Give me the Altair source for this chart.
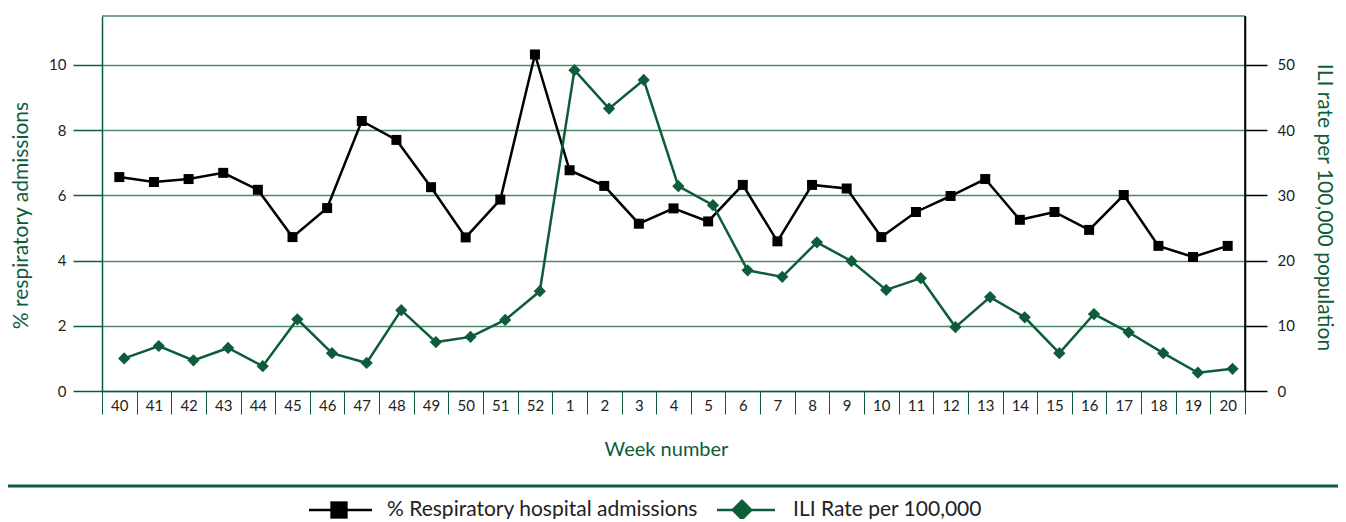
import altair as alt
import pandas as pd

weeks = ["40", "41", "42", "43", "44", "45", "46", "47", "48", "49", "50", "51", "52",
         "1", "2", "3", "4", "5", "6", "7", "8", "9", "10", "11", "12", "13", "14",
         "15", "16", "17", "18", "19", "20"]
resp_pct = [6.56, 6.41, 6.50, 6.69, 6.17, 4.72, 5.61, 8.28, 7.70, 6.25, 4.71, 5.87, 10.32,
            6.77, 6.29, 5.13, 5.60, 5.20, 6.32, 4.59, 6.32, 6.21, 4.72, 5.49, 5.98, 6.50,
            5.25, 5.49, 4.94, 6.01, 4.45, 4.11, 4.45]
ili_rate = [5.0, 6.9, 4.7, 6.6, 3.8, 11.0, 5.8, 4.3, 12.4, 7.5, 8.3, 10.9, 15.3,
            49.2, 43.3, 47.7, 31.4, 28.5, 18.5, 17.5, 22.8, 19.9, 15.5, 17.3, 9.8, 14.4,
            11.3, 5.8, 11.8, 9.0, 5.8, 2.8, 3.4]
legend_labels = ["% Respiratory hospital admissions", "ILI Rate per 100,000"]

GREEN = "#0d5c3a"
GRID = "#4b8a69"
FONT = "Lato"
TXT = "#222222"

df = pd.DataFrame({"week": weeks, "resp": resp_pct, "ili": ili_rate})
one = pd.DataFrame({"k": [0]})

xscale = alt.Scale(type="band", paddingInner=0, paddingOuter=0)
xaxis = alt.Axis(title="Week number", tickBand="extent", tickSize=23, tickColor=GREEN,
                 tickWidth=1, domainColor=GREEN, domainWidth=1.5, labelPadding=-16,
                 labelAngle=0, labelFontSize=15, labelColor=TXT, labelFont=FONT,
                 titleColor=GREEN, titleFontSize=20, titleFont=FONT,
                 titleFontWeight="normal", titlePadding=25, titleX=564)

x_black = alt.X("week:N", sort=weeks, scale=xscale, axis=xaxis)
x_green = alt.X("week:N", sort=weeks, scale=xscale, axis=xaxis, bandPosition=0.64)

y_left = alt.Y("resp:Q", scale=alt.Scale(domain=[0, 11.5], nice=False),
               axis=alt.Axis(values=[0, 2, 4, 6, 8, 10], grid=True, gridColor=GRID,
                             gridWidth=1.5, domainColor=GREEN, domainWidth=1.5,
                             tickColor=GREEN, tickWidth=1.5, tickSize=29, labelPadding=7,
                             labelFontSize=15, labelColor=TXT, labelFont=FONT,
                             title="% respiratory admissions", titleColor=GREEN,
                             titleFontSize=21, titleFont=FONT, titleFontWeight="normal",
                             titlePadding=17, titleY=199))
y_right = alt.Y("ili:Q", scale=alt.Scale(domain=[0, 57.5], nice=False),
                axis=alt.Axis(orient="right", values=[0, 10, 20, 30, 40, 50], grid=False,
                              domainColor="black", domainWidth=1.5, tickColor="black",
                              tickWidth=1.5, tickSize=22, labelPadding=10,
                              labelFontSize=15, labelColor=TXT, labelFont=FONT,
                              title="ILI rate per 100,000 population", titleColor=GREEN,
                              titleFontSize=21, titleFont=FONT, titleFontWeight="normal",
                              titlePadding=19, titleY=191, zindex=2))

black_line = alt.Chart(df).mark_line(color="black", strokeWidth=2.5).encode(x=x_black, y=y_left)
black_pts = alt.Chart(df).mark_point(shape="square", filled=True, size=100, color="black",
                                     opacity=1).encode(x=x_black, y=y_left)
left = alt.layer(black_line, black_pts)

green_line = alt.Chart(df).mark_line(color=GREEN, strokeWidth=2.5).encode(x=x_green, y=y_right)
green_pts = alt.Chart(df).mark_point(shape="diamond", filled=True, size=150, color=GREEN,
                                     opacity=1).encode(x=x_green, y=y_right)
right = alt.layer(green_line, green_pts)

# frame, separator and legend (decorations)
top_border = alt.Chart(one).mark_rule(color=GRID, strokeWidth=1.5).encode(
    x=alt.value(0), x2=alt.value(1143), y=alt.value(0))
right_border = alt.Chart(one).mark_rule(color="black", strokeWidth=1.5).encode(
    x=alt.value(1143), y=alt.value(0), y2=alt.value(375))
sep = alt.Chart(one).mark_rule(color=GREEN, strokeWidth=3).encode(
    x=alt.value(-94), x2=alt.value(1236), y=alt.value(470))
leg1_line = alt.Chart(one).mark_rule(color="black", strokeWidth=2.5).encode(
    x=alt.value(207), x2=alt.value(270), y=alt.value(494))
leg1_sym = alt.Chart(one).mark_point(shape="square", filled=True, size=300, color="black",
                                     opacity=1).encode(x=alt.value(237), y=alt.value(494))
leg1_txt = alt.Chart(one).mark_text(align="left", baseline="middle", fontSize=21, font=FONT,
                                    color=TXT).encode(x=alt.value(285), y=alt.value(494),
                                                      text=alt.value(legend_labels[0]))
leg2_line = alt.Chart(one).mark_rule(color=GREEN, strokeWidth=2.5).encode(
    x=alt.value(615), x2=alt.value(673), y=alt.value(494))
leg2_sym = alt.Chart(one).mark_point(shape="diamond", filled=True, size=480, color=GREEN,
                                     opacity=1).encode(x=alt.value(640), y=alt.value(494))
leg2_txt = alt.Chart(one).mark_text(align="left", baseline="middle", fontSize=21, font=FONT,
                                    color=TXT).encode(x=alt.value(691), y=alt.value(494),
                                                      text=alt.value(legend_labels[1]))

chart = alt.layer(top_border, right_border, left, right, sep, leg1_line, leg1_sym, leg1_txt,
                  leg2_line, leg2_sym, leg2_txt).resolve_scale(y="independent").properties(
    width=1143, height=375,
    padding={"left": 94, "top": 8, "right": 93, "bottom": 128},
    autosize=alt.AutoSizeParams(type="none"),
).configure_view(strokeWidth=0)

chart.save("out.html", embed_options={"renderer": "svg", "actions": False})
